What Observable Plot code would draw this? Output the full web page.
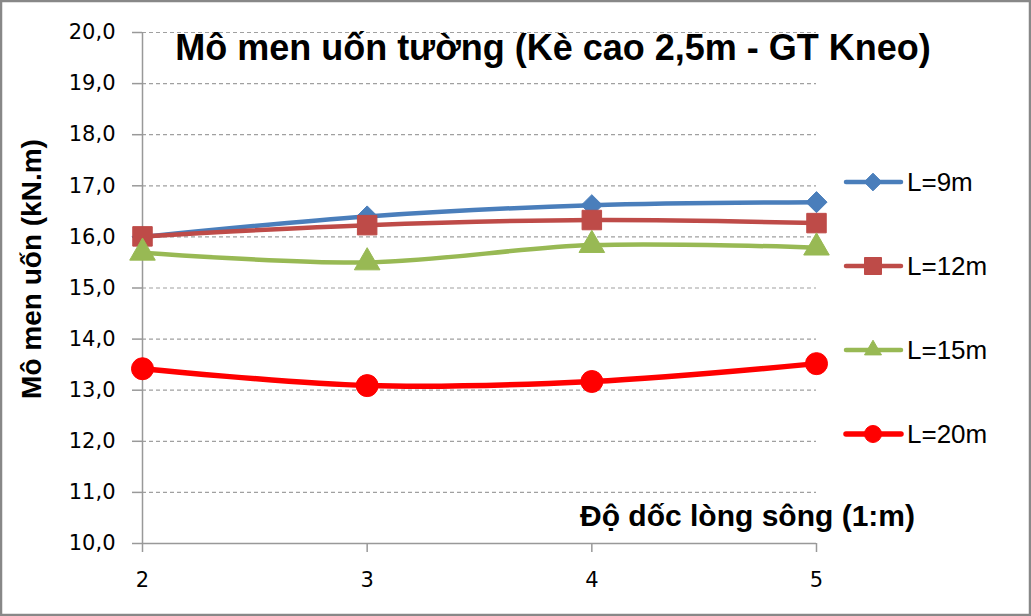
<!DOCTYPE html>
<html>
<head>
<meta charset="utf-8">
<script src="https://cdn.jsdelivr.net/npm/d3@7"></script>
<script src="https://cdn.jsdelivr.net/npm/@observablehq/plot@0.6"></script>
<style>
  html, body { margin: 0; padding: 0; background: #fff; }
  #chart { width: 1031px; height: 616px; }
</style>
</head>
<body>
<div id="chart"></div>
<script>
const slopes = [2, 3, 4, 5];
const seriesNames = ["L=9m", "L=12m", "L=15m", "L=20m"];
const L9 = [16.0, 16.40, 16.62, 16.68];
const L12 = [16.01, 16.23, 16.33, 16.27];
const L15 = [15.69, 15.50, 15.84, 15.79];
const L20 = [13.42, 13.09, 13.17, 13.52];
const yTicks = [10, 11, 12, 13, 14, 15, 16, 17, 18, 19, 20];
const colors = ["#4a7ebb", "#be4b48", "#98b954", "#ff0000"];
const symbols = ["diamond2", "square", "triangle", "circle"];
const title = "Mô men uốn tường (Kè cao 2,5m - GT Kneo)";
const yLabel = "Mô men uốn (kN.m)";
const xLabel = "Độ dốc lòng sông (1:m)";

const allSeries = [L9, L12, L15, L20];
const markerR = [9.5, 11, 9.5, 11];
const lineW = [4.5, 4.5, 4.5, 5.5];

const W = 1031, H = 616;
const mL = 142, mR = W - 816, mT = 32, mB = H - 543;

const fmt = d => d.toFixed(1).replace(".", ",");

const seriesMarks = allSeries.flatMap((vals, i) => {
  const rows = vals.map((v, j) => ({x: slopes[j], y: v}));
  return [
    Plot.line(rows, {x: "x", y: "y", stroke: colors[i], strokeWidth: lineW[i], curve: "catmull-rom"}),
    Plot.dot(rows, {x: "x", y: "y", symbol: symbols[i], fill: colors[i], stroke: colors[i], strokeWidth: 1, r: markerR[i]})
  ];
});

const plot = Plot.plot({
  width: W, height: H,
  marginLeft: mL, marginRight: mR, marginTop: mT, marginBottom: mB,
  style: {fontFamily: "DejaVu Sans", fontSize: "21px", background: "#fff", color: "#000"},
  x: {domain: [2, 5]},
  y: {domain: [10, 20]},
  marks: [
    Plot.ruleY(yTicks.filter(d => d > 10), {stroke: "#a0a0a0", strokeDasharray: "4,3", strokeWidth: 1.2}),
    Plot.ruleX([2], {stroke: "#999", strokeWidth: 1.5}),
    Plot.ruleY([10], {stroke: "#999", strokeWidth: 1.5}),
    Plot.axisX({ticks: slopes, tickFormat: d => String(d), tickSize: 9, tickPadding: 20, stroke: "#999", fontSize: 21, fontFamily: "DejaVu Sans", label: null, strokeWidth: 1.5}),
    Plot.axisY({ticks: yTicks, tickFormat: fmt, tickSize: 10, tickPadding: 17, stroke: "#999", fontSize: 21, fontFamily: "DejaVu Sans", label: null, strokeWidth: 1.5}),
    ...seriesMarks
  ]
});

const svg = d3.select(plot);
// outer border
svg.append("rect").attr("x", 1).attr("y", 1).attr("width", W - 2).attr("height", H - 2)
  .attr("fill", "none").attr("stroke", "#888").attr("stroke-width", 2.5);
// title
svg.append("text").attr("x", 553).attr("y", 60).attr("text-anchor", "middle")
  .attr("font-family", "Liberation Sans, Arial").attr("font-weight", "bold").attr("font-size", 36)
  .text(title);
// y label
svg.append("text").attr("transform", "translate(41,269) rotate(-90)").attr("text-anchor", "middle")
  .attr("font-family", "Liberation Sans, Arial").attr("font-weight", "bold").attr("font-size", 28)
  .text(yLabel);
// x label
svg.append("text").attr("x", 915).attr("y", 526).attr("text-anchor", "end")
  .attr("font-family", "Liberation Sans, Arial").attr("font-weight", "bold").attr("font-size", 30)
  .text(xLabel);
// legend
const legendY = [182, 266, 350, 434];
const symGen = {diamond2: d3.symbolDiamond2, square: d3.symbolSquare, triangle: d3.symbolTriangle, circle: d3.symbolCircle};
const legendSize = [200, 289, 125, 227];
seriesNames.forEach((name, i) => {
  const g = svg.append("g");
  g.append("line").attr("x1", 846).attr("x2", 901).attr("y1", legendY[i]).attr("y2", legendY[i])
    .attr("stroke", colors[i]).attr("stroke-width", lineW[i]).attr("stroke-linecap", "round");
  g.append("path").attr("transform", `translate(873,${legendY[i]})`)
    .attr("d", d3.symbol(symGen[symbols[i]], legendSize[i])()).attr("fill", colors[i]).attr("stroke", colors[i]);
  g.append("text").attr("x", 907).attr("y", legendY[i]).attr("dy", "0.36em").attr("text-anchor", "start")
    .attr("font-family", "Liberation Sans, Arial").attr("font-size", 26).text(name);
});

document.getElementById("chart").appendChild(plot);
</script>
</body>
</html>
